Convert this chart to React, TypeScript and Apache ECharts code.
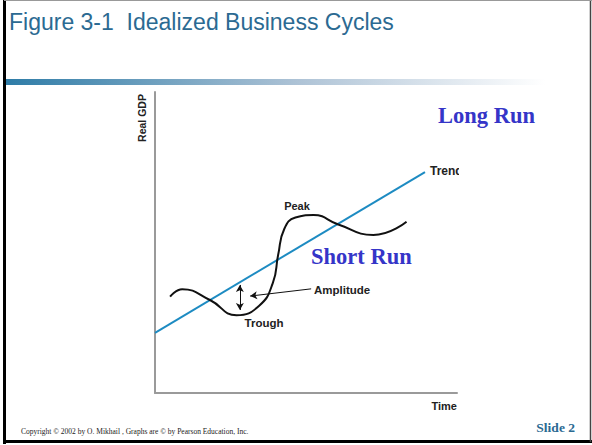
import React, { useEffect, useRef } from "react";
import * as echarts from "echarts";

// Trend line (Time, Real GDP) in abstract units 0..100
const trendPoints: [number, number][] = [
  [0, 20],
  [89.4, 73.4],
];

// Business cycle curve (Time, Real GDP)
const cyclePoints: [number, number][] = [
  [5.0, 32.0],
  [9.0, 34.5],
  [18.2, 30.9],
  [27.0, 25.8],
  [34.5, 29.0],
  [39.0, 36.5],
  [40.8, 46.0],
  [42.8, 54.5],
  [46.5, 58.3],
  [52.5, 59.1],
  [60.7, 56.0],
  [72.3, 52.5],
  [83.3, 56.9],
];

// Amplitude arrows
const amplitudeVertical: [number, number][] = [
  [28.1, 35.9],
  [28.1, 27.6],
];
const amplitudePointer: [number, number][] = [
  [51.7, 34.6],
  [31.5, 32.2],
];

const TITLE = "Figure 3-1  Idealized Business Cycles";
const COPYRIGHT =
  "Copyright © 2002 by O. Mikhail , Graphs are © by Pearson Education, Inc.";

export default function App() {
  const ref = useRef<HTMLDivElement>(null);
  useEffect(() => {
    if (!ref.current) return;
    const chart = echarts.init(ref.current, undefined, { renderer: "svg" });
    const sans = "'Liberation Sans', Arial, sans-serif";
    const serif = "'Liberation Serif', 'Times New Roman', serif";
    const titleColor = "#2b6a92";
    const runColor = "#3535c8";
    chart.setOption({
      animation: false,
      backgroundColor: "#ffffff",
      grid: { left: 155, top: 92, width: 302, height: 301 },
      xAxis: {
        type: "value",
        min: 0,
        max: 100,
        axisLine: { show: true, onZero: false, lineStyle: { color: "#9a9a9a", width: 2 } },
        axisTick: { show: false },
        axisLabel: { show: false },
        splitLine: { show: false },
      },
      yAxis: {
        type: "value",
        min: 0,
        max: 100,
        axisLine: { show: true, onZero: false, lineStyle: { color: "#9a9a9a", width: 2 } },
        axisTick: { show: false },
        axisLabel: { show: false },
        splitLine: { show: false },
      },
      series: [
        {
          type: "line",
          data: trendPoints,
          showSymbol: false,
          lineStyle: { color: "#1d8bc2", width: 2 },
          silent: true,
        },
        {
          type: "line",
          data: cyclePoints,
          smooth: 0.5,
          showSymbol: false,
          lineStyle: { color: "#111111", width: 2 },
          silent: true,
          markLine: {
            silent: true,
            animation: false,
            label: { show: false },
            lineStyle: { color: "#111111", width: 1, type: "solid" },
            symbolSize: [6, 7],
            data: [
              [
                { coord: amplitudeVertical[0], symbol: "arrow" },
                { coord: amplitudeVertical[1], symbol: "arrow" },
              ],
              [
                { coord: amplitudePointer[0], symbol: "none" },
                { coord: amplitudePointer[1], symbol: "arrow" },
              ],
            ],
          },
        },
      ],
      graphic: [
        {
          type: "rect",
          shape: { x: 6, y: 79, width: 586, height: 6 },
          style: {
            fill: new echarts.graphic.LinearGradient(0, 0, 1, 0, [
              { offset: 0, color: "#2e7ca7" },
              { offset: 0.5, color: "#aec3d6" },
              { offset: 0.92, color: "#ffffff" },
              { offset: 1, color: "#ffffff" },
            ]),
          },
          silent: true,
        },
        // slide border
        { type: "line", shape: { x1: 4.5, y1: 0, x2: 4.5, y2: 444 }, style: { stroke: "#000", lineWidth: 3 } },
        { type: "line", shape: { x1: 3, y1: 441.5, x2: 592, y2: 441.5 }, style: { stroke: "#000", lineWidth: 3 } },
        { type: "line", shape: { x1: 590.5, y1: 0, x2: 590.5, y2: 442 }, style: { stroke: "#444", lineWidth: 1.5 } },
        { type: "line", shape: { x1: 4, y1: 0.5, x2: 592, y2: 0.5 }, style: { stroke: "#999", lineWidth: 1 } },
        {
          type: "text",
          x: 9,
          y: 22,
          style: { text: TITLE, font: `23px ${sans}`, fill: titleColor, textVerticalAlign: "middle" },
        },
        {
          type: "text",
          x: 142,
          y: 118,
          rotation: Math.PI / 2,
          style: {
            text: "Real GDP",
            font: `bold 10.5px ${sans}`,
            fill: "#222",
            textAlign: "center",
            textVerticalAlign: "middle",
          },
        },
        {
          type: "text",
          x: 457,
          y: 406,
          style: { text: "Time", font: `bold 11px ${sans}`, fill: "#222", textAlign: "right", textVerticalAlign: "middle" },
        },
        {
          type: "text",
          x: 297,
          y: 206,
          style: { text: "Peak", font: `bold 11px ${sans}`, fill: "#222", textAlign: "center", textVerticalAlign: "middle" },
        },
        {
          type: "text",
          x: 264,
          y: 323,
          style: { text: "Trough", font: `bold 11.5px ${sans}`, fill: "#222", textAlign: "center", textVerticalAlign: "middle" },
        },
        {
          type: "text",
          x: 314,
          y: 290,
          style: { text: "Amplitude", font: `bold 11.5px ${sans}`, fill: "#222", textVerticalAlign: "middle" },
        },
        {
          type: "text",
          x: 430,
          y: 171,
          style: { text: "Trend", font: `bold 12px ${sans}`, fill: "#222", textVerticalAlign: "middle" },
        },
        {
          type: "rect",
          shape: { x: 459, y: 162, width: 12, height: 18 },
          style: { fill: "#ffffff" },
          silent: true,
        },
        {
          type: "text",
          x: 438,
          y: 127,
          style: { text: "Long Run", font: `bold 22.5px ${serif}`, fill: runColor, textVerticalAlign: "bottom" },
        },
        {
          type: "text",
          x: 311,
          y: 268,
          style: { text: "Short Run", font: `bold 22.5px ${serif}`, fill: runColor, textVerticalAlign: "bottom" },
        },
        {
          type: "text",
          x: 21,
          y: 431,
          style: { text: COPYRIGHT, font: `7.5px ${serif}`, fill: "#222", textVerticalAlign: "middle" },
        },
        {
          type: "text",
          x: 575,
          y: 427,
          style: { text: "Slide 2", font: `bold 13.5px ${serif}`, fill: titleColor, textAlign: "right", textVerticalAlign: "middle" },
        },
      ],
    });
    return () => chart.dispose();
  }, []);
  return (
    <div
      ref={ref}
      style={{ position: "fixed", left: 0, top: 0, width: 592, height: 445 }}
    />
  );
}
